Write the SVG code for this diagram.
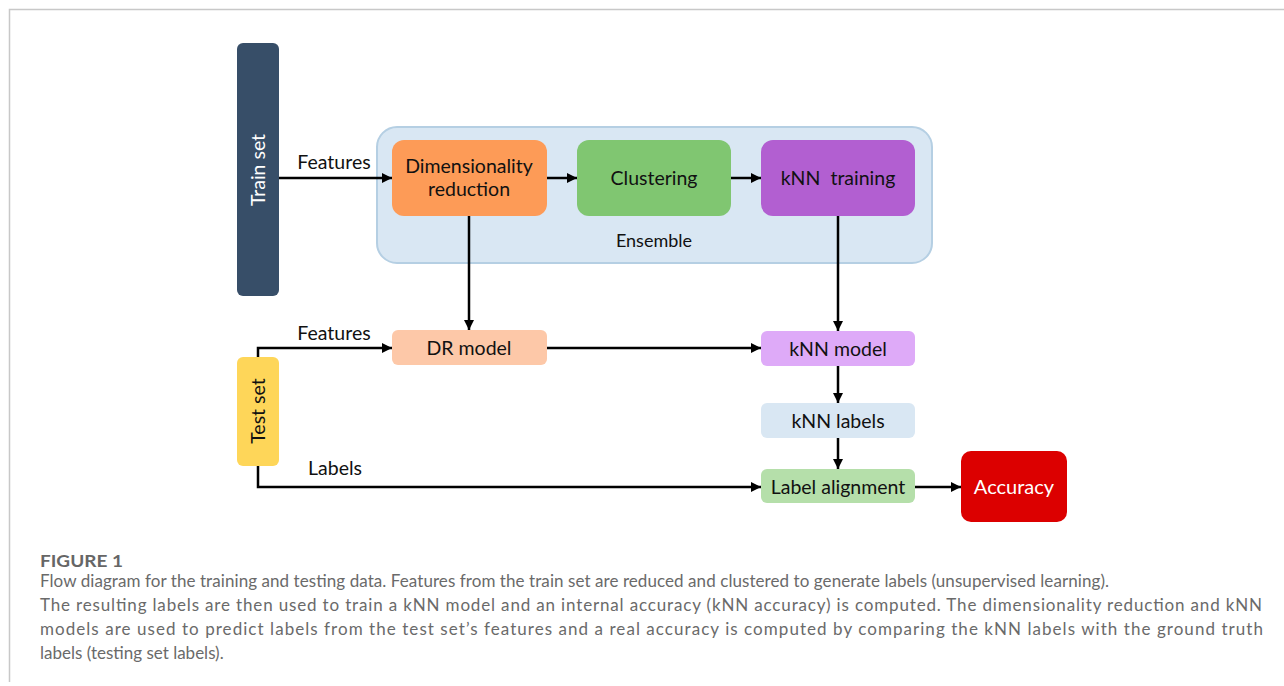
<svg xmlns="http://www.w3.org/2000/svg" width="1284" height="686" viewBox="0 0 1284 686">
<defs>
<marker id="ah" viewBox="0 0 10 10" refX="10" refY="5" markerWidth="10" markerHeight="10" markerUnits="userSpaceOnUse" orient="auto">
<path d="M0,0 L10,5 L0,10 z" fill="#000"/>
</marker>
<style>
.t{font-family:Lato,"Open Sans","Liberation Sans",sans-serif;font-size:19.5px;fill:#111;text-anchor:middle}
.w{fill:#fff}
.c{stroke:#000;stroke-width:2.5;fill:none}
.a{marker-end:url(#ah)}
.cap{font-family:Lato,"Open Sans","Liberation Sans",sans-serif;font-size:17px;fill:#6a6a6a}
</style>
</defs>
<rect width="1284" height="686" fill="#fff"/>
<path d="M9.5,682 V9.5 H1284" fill="none" stroke="#c8c8c8" stroke-width="1.5"/>

<g id="ensemble">
<rect x="377" y="127" width="555" height="136" rx="20" fill="#d9e7f3" stroke="#b5cfe3" stroke-width="2"/>
<text class="t" x="654" y="247" style="font-size:18px">Ensemble</text>
</g>

<g id="connectors">
<path class="c a" d="M279,178 H392"/>
<path class="c a" d="M547,178 H577"/>
<path class="c a" d="M731,178 H761"/>
<path class="c a" d="M469,216 V330"/>
<path class="c a" d="M838,216 V331"/>
<path class="c a" d="M258,357 V348 H392"/>
<path class="c a" d="M547,348 H761"/>
<path class="c a" d="M838,366 V403"/>
<path class="c a" d="M838,438 V469"/>
<path class="c a" d="M258,466 V487 H761"/>
<path class="c a" d="M915,487 H961"/>
<text class="t" x="334" y="169">Features</text>
<text class="t" x="334" y="340">Features</text>
<text class="t" x="335" y="475">Labels</text>
</g>

<g id="train-set">
<rect x="237" y="43" width="42" height="253" rx="6" fill="#374e68"/>
<text class="t w" transform="translate(265,170) rotate(-90)">Train set</text>
</g>

<g id="dim-reduction">
<rect x="392" y="140" width="155" height="76" rx="12" fill="#fd9b57"/>
<text class="t" x="469" y="173">Dimensionality</text>
<text class="t" x="469" y="196">reduction</text>
</g>

<g id="clustering">
<rect x="577" y="140" width="154" height="76" rx="12" fill="#80c671"/>
<text class="t" x="654" y="185">Clustering</text>
</g>

<g id="knn-training">
<rect x="761" y="140" width="154" height="76" rx="12" fill="#b25fd1"/>
<text class="t" x="838" y="185" xml:space="preserve">kNN  training</text>
</g>

<g id="test-set">
<rect x="237" y="357" width="42" height="109" rx="6" fill="#fed659"/>
<text class="t" transform="translate(265,411) rotate(-90)">Test set</text>
</g>

<g id="dr-model">
<rect x="392" y="330" width="155" height="35" rx="6" fill="#fdc8a8"/>
<text class="t" x="469" y="355">DR model</text>
</g>

<g id="knn-model">
<rect x="761" y="331" width="154" height="35" rx="6" fill="#deaaf8"/>
<text class="t" x="838" y="356">kNN model</text>
</g>

<g id="knn-labels">
<rect x="761" y="403" width="154" height="35" rx="6" fill="#d9e7f3"/>
<text class="t" x="838" y="428">kNN labels</text>
</g>

<g id="label-alignment">
<rect x="761" y="469" width="154" height="34" rx="6" fill="#b5dfaa"/>
<text class="t" x="838" y="494">Label alignment</text>
</g>

<g id="accuracy">
<rect x="961" y="451" width="106" height="71" rx="10" fill="#dc0000"/>
<text class="t w" x="1014" y="494" style="font-size:20px">Accuracy</text>
</g>

<g id="caption">
<text class="cap" x="40" y="567" textLength="83" lengthAdjust="spacingAndGlyphs" style="font-weight:bold;fill:#666">FIGURE 1</text>
<text class="cap" x="40" y="587" textLength="1069" lengthAdjust="spacing">Flow diagram for the training and testing data. Features from the train set are reduced and clustered to generate labels (unsupervised learning).</text>
<text class="cap" x="40" y="611" textLength="1222" lengthAdjust="spacing">The resulting labels are then used to train a kNN model and an internal accuracy (kNN accuracy) is computed. The dimensionality reduction and kNN</text>
<text class="cap" x="40" y="635" textLength="1223" lengthAdjust="spacing">models are used to predict labels from the test set’s features and a real accuracy is computed by comparing the kNN labels with the ground truth</text>
<text class="cap" x="40" y="659">labels (testing set labels).</text>
</g>
</svg>
